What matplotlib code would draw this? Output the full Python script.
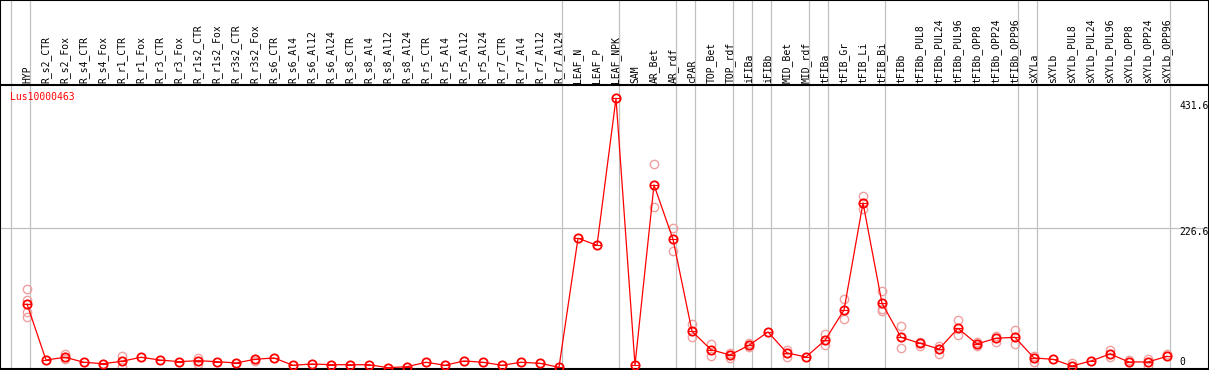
import numpy as np
import matplotlib
matplotlib.use('Agg')
import matplotlib.pyplot as plt

## DATA
#####################################################################
gene = 'Lus10000463'

samples = ['HYP',
           'R_s2_CTR','R_s2_Fox','R_s4_CTR','R_s4_Fox','R_r1_CTR','R_r1_Fox',
           'R_r3_CTR','R_r3_Fox','R_r1s2_CTR','R_r1s2_Fox','R_r3s2_CTR',
           'R_r3s2_Fox','R_s6_CTR','R_s6_Al4','R_s6_Al12','R_s6_Al24',
           'R_s8_CTR','R_s8_Al4','R_s8_Al12','R_s8_Al24','R_r5_CTR',
           'R_r5_Al4','R_r5_Al12','R_r5_Al24','R_r7_CTR','R_r7_Al4',
           'R_r7_Al12','R_r7_Al24',
           'LEAF_N','LEAF_P','LEAF_NPK','SAM','AR_Bet','AR_rdf','cPAR',
           'TOP_Bet','TOP_rdf','iFIBa','iFIBb','MID_Bet','MID_rdf','tFIBa',
           'tFIB_Gr','tFIB_Li','tFIB_Bi','tFIBb','tFIBb_PUL8','tFIBb_PUL24',
           'tFIBb_PUL96','tFIBb_OPP8','tFIBb_OPP24','tFIBb_OPP96','sXYLa',
           'sXYLb','sXYLb_PUL8','sXYLb_PUL24','sXYLb_PUL96','sXYLb_OPP8',
           'sXYLb_OPP24','sXYLb_OPP96']

# mean expression per sample
mean = [107.1,
        18.8,23.1,15.2,13.0,16.8,23.1,18.8,16.2,17.7,16.2,14.1,19.9,22.0,
        10.5,12.5,11.4,11.4,11.4,6.7,8.2,15.2,10.5,17.3,15.2,10.5,15.2,
        13.6,7.3,
        210.9,199.8,431.6,10.9,295.0,209.3,64.1,35.1,26.7,42.0,63.0,29.9,
        23.6,49.9,97.7,266.6,108.3,54.6,45.2,36.2,68.8,44.1,53.1,54.6,
        22.0,19.9,9.4,17.3,28.3,15.7,15.7,24.6]

# individual replicates (sample index, value)
rep_idx = [0,0,0,0, 2,2, 5,5, 9,9, 12,
           33,33, 34,34, 35,35, 36,36, 37,37, 38,38, 40,40, 42,42, 43,43,
           44,44, 45,45,45, 46,46, 47,47, 48,48, 49,49, 50,50, 51,51, 52,52,
           53,53, 55, 57,57, 58, 59,59, 60]
rep_val = [130.8,113.5,94.0,86.2, 28.3,20.4, 25.1,7.8, 22.0,12.5, 16.8,
           327.6,259.8, 226.6,190.8, 75.6,54.6, 44.1,25.6, 29.4,22.4,
           46.1,38.9, 34.6,24.0, 59.8,42.0, 115.1,83.0, 277.6,257.1,
           127.7,99.3,96.1, 72.0,38.2, 47.7,40.9, 40.9,28.3, 81.5,57.8,
           47.2,40.9, 56.7,47.2, 66.2,43.6, 25.1,16.2, 13.6, 34.1,23.6,
           18.8, 20.4,9.4, 29.0]

# group separators (line drawn just right of these samples)
seps = [-1,0,28,31,34,35,37,38,39,41,42,45,52,53,60]

# right hand scale labels
scale_vals = [431.6,226.6,0.0]
scale_txt = ['431.6','226.6','0']

## PLOT
#####################################################################
W,H = 1209.,370.
top_h = 85.
fs = 7
mono = 'DejaVu Sans Mono'
grey = '#c0c0c0'

n = len(samples)
x = np.arange(n)
xlim = (-27.0/19.0,(W-27.0)/19.0)

fig = plt.figure(figsize=(W/100.,H/100.),dpi=100)
ax_lab = fig.add_axes([0,(H-top_h)/H,1,top_h/H])
ax = fig.add_axes([0,1.0/H,1,(H-1.0-top_h)/H])

# label strip
ax_lab.set_xlim(*xlim)
ax_lab.set_ylim(0,1)
ax_lab.set_xticks([])
ax_lab.set_yticks([])
for s in ['top','left','right']:
  ax_lab.spines[s].set_linewidth(1.5)
ax_lab.spines['bottom'].set_visible(False)
for i,lab in enumerate(samples):
  ax_lab.text(i,2.0/top_h,lab,rotation=90,ha='center',va='bottom',
              fontsize=fs,family=mono)
for s in seps:
  ax_lab.axvline(s+0.18,color=grey,lw=0.9,zorder=0)

# data panel
ylo = 4.6
yhi = 452.7
ax.set_xlim(*xlim)
ax.set_ylim(ylo,yhi)
ax.set_xticks([])
ax.set_yticks([])
for s in ax.spines.values():
  s.set_linewidth(1.5)
for s in seps:
  ax.axvline(s+0.18,color=grey,lw=0.9,zorder=0)
ax.axhline(scale_vals[1],color=grey,lw=0.9,zorder=0)

ax.plot(rep_idx,rep_val,'o',ms=6,mfc='none',mec='#f0a0a0',mew=1.0,zorder=2)
ax.plot(x,mean,'-',color='red',lw=0.9,zorder=3)
ax.plot(x,mean,'o',ms=6,mfc='none',mec='red',mew=1.3,zorder=4)
ax.plot(x,mean,'_',ms=6,mec='red',mew=0.8,zorder=4)

# pixel offsets of the scale labels from their values
offs = [-8,-4,10]
for v,t,o in zip(scale_vals,scale_txt,offs):
  ax.annotate(t,xy=(1179.0/W,v),xycoords=('axes fraction','data'),
              xytext=(0,o),textcoords='offset pixels',
              ha='left',va='center',fontsize=fs,family=mono,
              annotation_clip=False)

ax.text(10.0/W,(369.0-96.7)/(369.0-top_h),gene,transform=ax.transAxes,
        ha='left',va='center',color='red',fontsize=fs,family=mono)

fig.savefig('out.png',dpi=100)
